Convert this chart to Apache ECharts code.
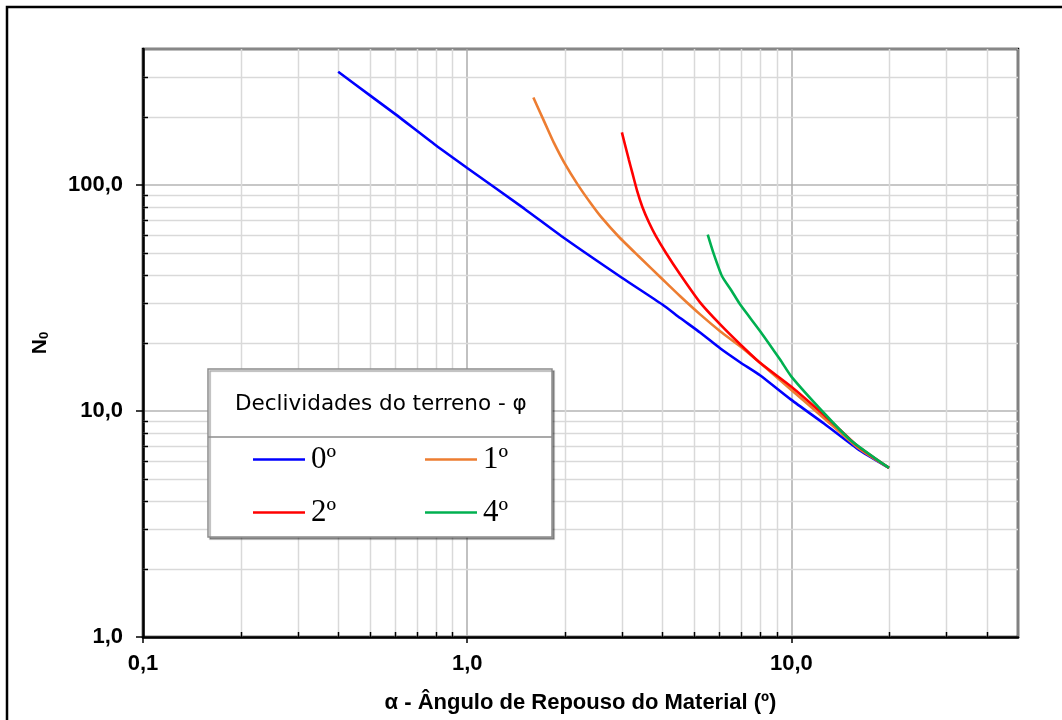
<!DOCTYPE html>
<html>
<head>
<meta charset="utf-8">
<title>N0 x alfa</title>
<script src="https://cdn.jsdelivr.net/npm/echarts@6/dist/echarts.min.js"></script>
<style>
  html,body{margin:0;padding:0;background:#fff;}
  #main{width:1062px;height:720px;}
</style>
</head>
<body>
<div id="main"></div>
<script>
// valores (alfa em graus, N0)
var alpha0 = [0.4, 0.5, 0.6, 0.8, 1.0, 1.5, 2.0, 3.0, 4.0, 4.54, 5.24, 6.04, 6.96, 8.0, 10, 12.6, 16, 20];
var n0     = [317, 250, 206, 150, 119, 78.6, 58, 38.9, 29.6, 25.8, 22.2, 18.9, 16.4, 14.4, 11.2, 8.8, 6.8, 5.6];

var alpha1 = [1.6, 1.68, 1.77, 1.85, 1.99, 2.19, 2.42, 2.6, 2.93, 3.38, 4.01, 4.54, 5.24, 6.04, 6.96, 8.02, 10, 12.6, 16, 20];
var n1     = [244, 209, 177, 154, 126, 100.7, 82, 71.7, 59.2, 48.4, 38.2, 32.2, 26.7, 22.5, 19.3, 16.3, 12.4, 9.3, 6.9, 5.6];

var alpha2 = [3.0, 3.15, 3.23, 3.345, 3.47, 3.64, 3.82, 4.1, 4.54, 5.24, 6.04, 6.96, 8.02, 10, 12.6, 14.2, 16, 20];
var n2     = [171, 130, 113.5, 94, 80, 68.1, 59.4, 50.2, 40.2, 30.1, 24.1, 19.7, 16.3, 12.8, 9.6, 8.2, 7.0, 5.6];

var alpha4 = [5.52, 5.75, 6.11, 6.5, 6.96, 8.02, 9.25, 10, 12.6, 15.2, 20];
var n4     = [60.4, 50, 39.5, 34.5, 29.5, 22.5, 16.8, 14.2, 9.8, 7.45, 5.6];

var seriesNames = ['0º', '1º', '2º', '4º'];
var seriesColors = ['#0000ff', '#ed7d31', '#ff0000', '#00b050'];

// divisoes secundarias das escalas logaritmicas
var xMinorTicks = [0.2, 0.3, 0.4, 0.5, 0.6, 0.7, 0.8, 0.9, 2, 3, 4, 5, 6, 7, 8, 9, 20, 30, 40];
var yMinorTicks = [2, 3, 4, 5, 6, 7, 8, 9, 20, 30, 40, 50, 60, 70, 80, 90, 200, 300];

var legendTitle = 'Declividades do terreno - φ';
var xTitle = 'α - Ângulo de Repouso do Material (º)';

(function(dom){
    var grafico={
        init:function(){
            this.chart=echarts.init(dom.getElementById('main'));
            this.chart.setOption(this.buildOption());
        },
        pairs:function(xs,ys){
            var out=[];
            for(var i=0;i<xs.length;i++){
                out.push([xs[i],ys[i]]);
            }
            return out;
        },
        fmt:function(v){
            //0.1 -> "0,1"
            return Number(v).toFixed(1).replace('.',',');
        },
        buildOption:function(){
            var me=this;
            var dados=[me.pairs(alpha0,n0),me.pairs(alpha1,n1),me.pairs(alpha2,n2),me.pairs(alpha4,n4)];
            var series=[];

            //linhas secundarias verticais
            series.push({
                type:'custom',
                silent:true,
                z:1,
                data:xMinorTicks.map(function(v){return [v,1];}),
                renderItem:function(params,api){
                    var cs=params.coordSys;
                    var x=Math.round(api.coord([api.value(0),1])[0])+0.5;
                    var b=cs.y+cs.height;
                    return {type:'group',children:[
                        {type:'line',shape:{x1:x,y1:cs.y,x2:x,y2:b},style:{stroke:'#d9d9d9',lineWidth:1.5}},
                        {type:'line',shape:{x1:x,y1:b,x2:x,y2:b-5},style:{stroke:'#000',lineWidth:1.5}}
                    ]};
                }
            });
            //linhas secundarias horizontais
            series.push({
                type:'custom',
                silent:true,
                z:1,
                data:yMinorTicks.map(function(v){return [1,v];}),
                renderItem:function(params,api){
                    var cs=params.coordSys;
                    var y=Math.round(api.coord([1,api.value(1)])[1])+0.5;
                    return {type:'group',children:[
                        {type:'line',shape:{x1:cs.x,y1:y,x2:cs.x+cs.width,y2:y},style:{stroke:'#d9d9d9',lineWidth:1.5}},
                        {type:'line',shape:{x1:cs.x,y1:y,x2:cs.x+5,y2:y},style:{stroke:'#000',lineWidth:1.5}}
                    ]};
                }
            });

            for(var i=0;i<seriesNames.length;i++){
                series.push({
                    name:seriesNames[i],
                    type:'line',
                    data:dados[i],
                    showSymbol:false,
                    symbol:'none',
                    smooth:0.2,
                    z:3,
                    lineStyle:{color:seriesColors[i],width:2.6},
                    itemStyle:{color:seriesColors[i]}
                });
            }

            var legendBase=function(name,left,top){
                return {
                    data:[name],
                    left:left,
                    top:top,
                    padding:0,
                    z:10,
                    icon:'rect',
                    itemWidth:52,
                    itemHeight:2.5,
                    itemGap:0,
                    selectedMode:false,
                    textStyle:{fontFamily:'Liberation Serif',fontSize:31,lineHeight:30,color:'#000',padding:[0,0,0,1]}
                };
            };

            return {
                backgroundColor:'#fff',
                animation:false,
                grid:{
                    left:143,top:49,right:44,bottom:83,
                    show:true,
                    borderColor:'#000',
                    borderWidth:2.5
                },
                xAxis:{
                    type:'log',
                    logBase:10,
                    min:0.1,
                    max:50,
                    name:xTitle,
                    nameLocation:'middle',
                    nameGap:55,
                    nameTextStyle:{fontFamily:'Liberation Sans',fontWeight:'bold',fontSize:22,color:'#000'},
                    axisLine:{lineStyle:{color:'#000',width:2.5}},
                    axisTick:{show:true,length:6,lineStyle:{color:'#000',width:1.5}},
                    axisLabel:{
                        margin:16,
                        showMaxLabel:false,
                        fontFamily:'Liberation Sans',fontWeight:'bold',fontSize:22,color:'#000',
                        formatter:function(v){return me.fmt(v);}
                    },
                    splitLine:{show:true,lineStyle:{color:'#acacac',width:1.5}},
                    minorTick:{show:false}
                },
                yAxis:{
                    type:'log',
                    logBase:10,
                    min:1,
                    max:400,
                    name:'{n|N}{s|0}',
                    nameLocation:'middle',
                    nameGap:92,
                    nameTextStyle:{
                        color:'#000',
                        rich:{
                            n:{fontFamily:'Liberation Sans',fontWeight:'bold',fontSize:21,lineHeight:21,verticalAlign:'bottom'},
                            s:{fontFamily:'Liberation Sans',fontWeight:'bold',fontSize:13,lineHeight:21,verticalAlign:'bottom'}
                        }
                    },
                    axisLine:{lineStyle:{color:'#000',width:2.5}},
                    axisTick:{show:true,length:7,lineStyle:{color:'#000',width:1.5}},
                    axisLabel:{
                        margin:20,
                        showMaxLabel:false,
                        fontFamily:'Liberation Sans',fontWeight:'bold',fontSize:22,color:'#000',
                        formatter:function(v){return me.fmt(v);}
                    },
                    splitLine:{show:true,lineStyle:{color:'#b4b4b4',width:1.5}}
                },
                legend:[
                    legendBase(seriesNames[0],253,444),
                    legendBase(seriesNames[1],425,444),
                    legendBase(seriesNames[2],253,497),
                    legendBase(seriesNames[3],425,497)
                ],
                graphic:[
                    //moldura externa
                    {type:'rect',z:0,silent:true,shape:{x:7,y:7,width:1100,height:800},
                        style:{fill:null,stroke:'#000',lineWidth:2.5}},
                    //caixa da legenda
                    {type:'rect',z:8,silent:true,shape:{x:208,y:369,width:344,height:168},
                        style:{fill:'#fff',stroke:'#8c8c8c',lineWidth:1.5,
                               shadowColor:'rgba(0,0,0,0.35)',shadowOffsetX:2,shadowOffsetY:2,shadowBlur:1}},
                    {type:'line',z:9,silent:true,shape:{x1:208,y1:437,x2:552,y2:437},
                        style:{stroke:'#8c8c8c',lineWidth:1.5}},
                    {type:'text',z:9,silent:true,x:235,y:404,
                        style:{text:legendTitle,fontFamily:'DejaVu Sans',fontSize:21.5,fill:'#000',verticalAlign:'middle'}}
                ],
                series:series
            };
        }
    };
    grafico.init();
})(document);
</script>
</body>
</html>
